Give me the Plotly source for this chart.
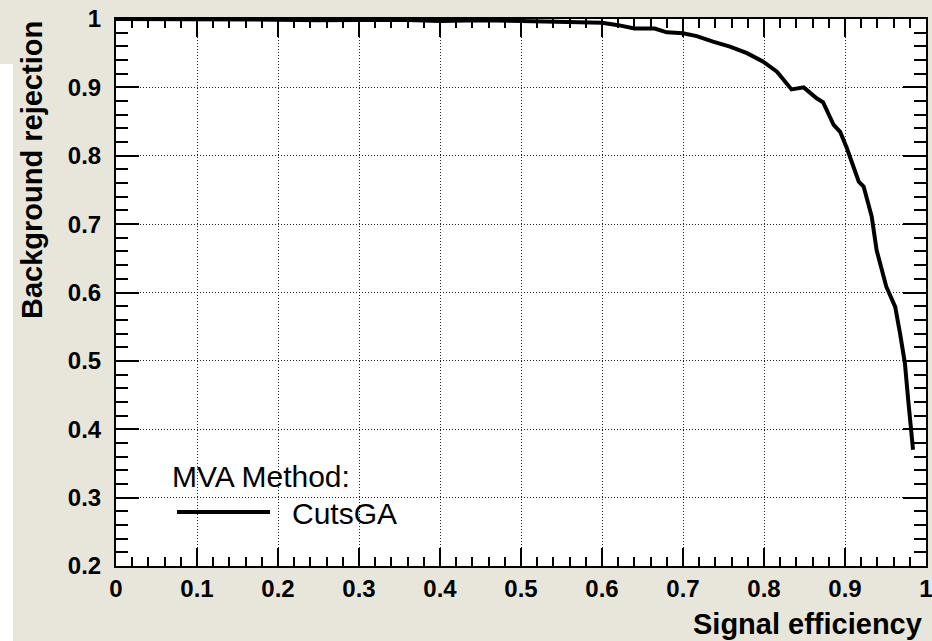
import plotly.graph_objects as go

# ROC curve for the CutsGA method
sig_eff = [0.0, 0.05, 0.1, 0.15, 0.2, 0.25, 0.3, 0.35, 0.4, 0.45, 0.5, 0.55,
           0.6, 0.62, 0.64, 0.665, 0.68, 0.70, 0.717, 0.737, 0.758, 0.779,
           0.799, 0.816, 0.834, 0.849, 0.865, 0.873, 0.886, 0.894, 0.902,
           0.917, 0.923, 0.933, 0.939, 0.951, 0.962, 0.968, 0.974, 0.978,
           0.982, 0.984]
bkg_rej = [1.0, 1.0, 1.0, 0.999, 0.999, 0.998, 0.999, 0.999, 0.997, 0.998,
           0.997, 0.996, 0.9946, 0.991, 0.986, 0.986, 0.9805, 0.979, 0.975,
           0.967, 0.9595, 0.950, 0.9376, 0.923, 0.897, 0.900, 0.884, 0.878,
           0.845, 0.835, 0.812, 0.762, 0.755, 0.711, 0.662, 0.6085, 0.579,
           0.540, 0.496, 0.443, 0.399, 0.370]

method_title = "MVA Method:"
method_name = "CutsGA"

BG = "#e8e6da"
W, H = 932, 641
L, R, T, B = 116, 6, 19, 75
plot_w = W - L - R
plot_h = H - T - B

fig = go.Figure()
fig.add_trace(go.Scatter(
    x=sig_eff, y=bkg_rej, mode="lines", name=method_name,
    line=dict(color="black", width=4), showlegend=False,
))

axis_common = dict(
    showline=True, linecolor="black", linewidth=2, mirror="ticks",
    ticks="inside", tickcolor="black", tickwidth=2,
    showgrid=True, gridcolor="#222", gridwidth=1, griddash="1px,2px",
    zeroline=False, automargin=False, ticklabeloverflow="allow",
    tickfont=dict(family="Liberation Sans, Arial", size=24, color="black",
                  weight="bold"),
)

fig.update_xaxes(
    range=[0, 1], dtick=0.1, tick0=0, ticklen=18, ticklabelstandoff=0,
    minor=dict(dtick=0.02, ticklen=9, ticks="inside", tickcolor="black",
               tickwidth=1.5, showgrid=False),
    **axis_common,
)
fig.update_yaxes(
    range=[0.2, 1], dtick=0.1, tick0=0.2, ticklen=23, ticklabelstandoff=8,
    minor=dict(dtick=0.02, ticklen=12, ticks="inside", tickcolor="black",
               tickwidth=1.5, showgrid=False),
    **axis_common,
)

title_font = dict(family="Liberation Sans, Arial", size=29, color="black",
                  weight="bold")
legend_font = dict(family="Liberation Sans, Arial", size=30, color="black")

# white strip at the left edge of the screenshot
fig.add_shape(type="rect", xref="paper", yref="paper",
              x0=-L / plot_w, x1=(13 - L) / plot_w,
              y0=-B / plot_h, y1=(H - T - 120) / plot_h,
              fillcolor="white", line=dict(width=0), layer="below")

annotations = [
    dict(text="Signal efficiency", xref="paper", yref="paper",
         x=1, y=-(624 - (H - B)) / plot_h, xanchor="right", yanchor="middle",
         xshift=-2, showarrow=False, font=title_font),
    dict(text="Background rejection", xref="paper", yref="paper",
         x=-(L - 32) / plot_w, y=1, xanchor="center", yanchor="top",
         textangle=-90, showarrow=False, font=title_font),
    dict(text=method_title, xref="paper", yref="paper",
         x=(170 - L) / plot_w, y=(H - B - 476) / plot_h,
         xanchor="left", yanchor="middle", showarrow=False, font=legend_font),
    dict(text=method_name, xref="paper", yref="paper",
         x=(290 - L) / plot_w, y=(H - B - 513) / plot_h,
         xanchor="left", yanchor="middle", showarrow=False, font=legend_font),
]

# legend sample line
fig.add_shape(type="line", xref="paper", yref="paper",
              x0=(177 - L) / plot_w, x1=(270 - L) / plot_w,
              y0=(H - B - 512) / plot_h, y1=(H - B - 512) / plot_h,
              line=dict(color="black", width=4))

fig.update_layout(
    width=W, height=H,
    margin=dict(l=L, r=R, t=T, b=B),
    paper_bgcolor=BG, plot_bgcolor="white",
    annotations=annotations,
)

# drop the page's default body margin so the figure fills the window
fig.write_html(
    "out.html",
    config={"displayModeBar": False},
    post_script="document.body.style.margin='0';"
                "document.body.style.overflow='hidden';",
)
